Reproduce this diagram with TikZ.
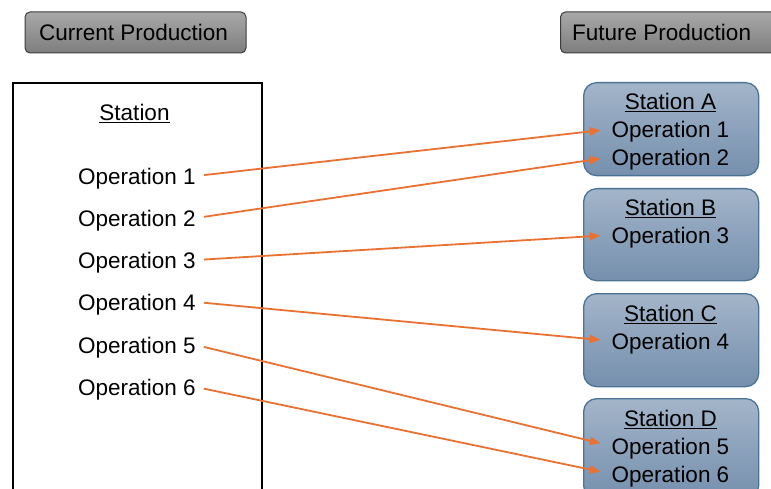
\documentclass[tikz,border=0pt]{standalone}
\usepackage{fontspec}
\setmainfont{Liberation Sans}
\usetikzlibrary{arrows.meta}
\definecolor{flow}{HTML}{E97132}
\definecolor{btntop}{HTML}{A8A8A8}
\definecolor{btnbot}{HTML}{7E7E7E}
\definecolor{btnline}{HTML}{3C3C3C}
\definecolor{sttop}{HTML}{A3B5C9}
\definecolor{stbot}{HTML}{758FAD}
\definecolor{stline}{HTML}{4A7396}
% underlined heading word
\newcommand\ulword[1]{\vtop{\hbox{#1}\kern1.6pt\hrule height 1.3pt}}
\tikzset{
  txt/.style={font=\fontsize{22.5}{26}\selectfont, text height=16.1pt, text depth=0pt, inner sep=0pt},
  button/.style={draw=btnline, line width=1pt, rounded corners=5pt,
    top color=btntop, bottom color=btnbot, minimum height=41pt, inner sep=0pt},
  stbox/.style={draw=stline, line width=1.3pt, rounded corners=13pt,
    top color=sttop, bottom color=stbot, minimum width=175pt, inner sep=0pt},
  flowarrow/.style={draw=flow, line width=1.8pt,
    -{Triangle[length=11pt,width=8pt]}, shorten <=8pt, shorten >=11pt},
}
\begin{document}
\begin{tikzpicture}[x=1pt,y=1pt]
\useasboundingbox (0,-489) rectangle (771,0);
\clip (0,-489) rectangle (771,0);

% headers
\node[button, minimum width=221pt] (cur) at (135.5,-32.5) {};
\node[txt] (curt) at (133.5,-32.5) {Current Production};
\node[button, minimum width=230pt, anchor=west] (fut) at (560,-32.5) {};
\node[txt, anchor=west] (futt) at (572,-32.5) {Future Production};

% current station
\node[draw=black, line width=1.8pt, minimum width=249pt, minimum height=440pt,
      anchor=north west, inner sep=0pt] (cst) at (12,-82) {};
\node[txt] (cstt) at (134.5,-112) {\ulword{Station}};
\foreach \i/\y in {1/176,2/218,3/260,4/302,5/345,6/387}
  \node[txt, anchor=west] (l\i) at (78,-\y) {Operation \i};

% future stations
\node[stbox, minimum height=93pt, anchor=north west] (sA) at (583,-82) {};
\node[stbox, minimum height=92pt, anchor=north west] (sB) at (583,-188) {};
\node[stbox, minimum height=93pt, anchor=north west] (sC) at (583,-293) {};
\node[stbox, minimum height=100pt, anchor=north west] (sD) at (583,-398) {};

\node[txt] (tA) at (670.5,-101) {\ulword{Station A}};
\node[txt] (r1) at (670.5,-129) {Operation 1};
\node[txt] (r2) at (670.5,-157) {Operation 2};
\node[txt] (tB) at (670.5,-207) {\ulword{Station B}};
\node[txt] (r3) at (670.5,-235) {Operation 3};
\node[txt] (tC) at (670.5,-313) {\ulword{Station C}};
\node[txt] (r4) at (670.5,-341) {Operation 4};
\node[txt] (tD) at (670.5,-418) {\ulword{Station D}};
\node[txt] (r5) at (670.5,-446) {Operation 5};
\node[txt] (r6) at (670.5,-474) {Operation 6};

% operation moves
\foreach \i in {1,...,6}
  \draw[flowarrow] (l\i.east) -- (r\i.west);
\end{tikzpicture}
\end{document}
